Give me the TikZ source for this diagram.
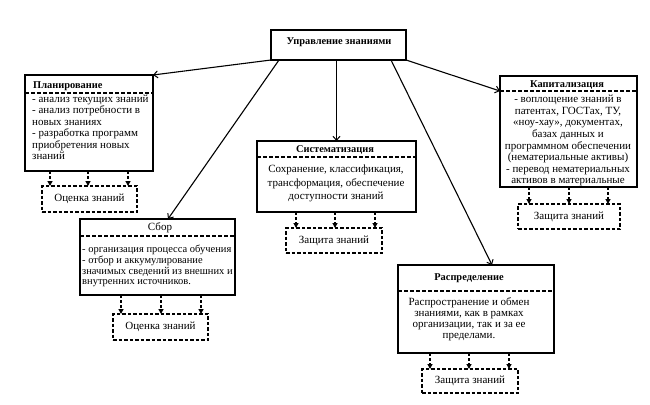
\documentclass[tikz,border=0pt]{standalone}
\usepackage{fontspec}
\setmainfont{Liberation Serif}
\usetikzlibrary{arrows.meta,calc}
\newcommand{\fsz}[1]{\fontsize{11}{#1}\selectfont}
\newcommand{\tsz}{\fontsize{10.4}{12}\selectfont\bfseries}
\begin{document}
\begin{tikzpicture}[x=1pt,y=-1pt,
  box/.style={draw,line width=1.6pt,inner sep=0pt,outer sep=0pt,anchor=north west},
  evalbox/.style={draw,line width=1.2pt,dash pattern=on 3.5pt off 2pt,inner sep=0pt,outer sep=0pt,anchor=north west,font=\fsz{12}},
  sep/.style={line width=1.2pt,dash pattern=on 4pt off 2pt},
  conn/.style={line width=1.1pt,-{Straight Barb[length=4pt,width=7pt,line width=1pt]}},
  darr/.style={line width=1.2pt,dash pattern=on 3pt off 2pt,-{Triangle[length=5pt,width=5pt]}},
  ttl/.style={inner sep=0pt,font=\tsz},
  body/.style={inner sep=0pt,align=center},
]
\useasboundingbox (0,0) rectangle (650,404);

% main box
\node[box,minimum width=135pt,minimum height=30pt] (top) at (271,30) {};
\node[ttl] (toptxt) at (339,42) {Управление знаниями};

% boxes
\node[box,minimum width=128pt,minimum height=96pt] (plan) at (25,75) {};
\node[box,minimum width=155pt,minimum height=76pt] (sbor) at (80,219) {};
\node[box,minimum width=159pt,minimum height=71pt] (sys) at (257,141) {};
\node[box,minimum width=156pt,minimum height=88pt] (distr) at (398,265) {};
\node[box,minimum width=137pt,minimum height=111pt] (cap) at (500,76) {};

% titles
\node[ttl,anchor=west] (plant) at (33,86) {Планирование};
\node[inner sep=0pt,font=\fsz{12}] (sbort) at (160,228) {Сбор};
\node[ttl] (syst) at (335,150) {Систематизация};
\node[ttl] (distrt) at (469,278) {Распределение};
\node[ttl] (capt) at (567,85) {Капитализация};

% separators
\coordinate (s1) at (0,93);
\coordinate (s2) at (0,236);
\coordinate (s3) at (0,157);
\coordinate (s4) at (0,291);
\coordinate (s5) at (0,91);
\draw[sep] (plan.west |- s1) -- (plan.east |- s1);
\draw[sep] (sbor.west |- s2) -- (sbor.east |- s2);
\draw[sep] (sys.west |- s3) -- (sys.east |- s3);
\draw[sep] (distr.west |- s4) -- (distr.east |- s4);
\draw[sep] (cap.west |- s5) -- (cap.east |- s5);

% bodies
\node[body,align=left,anchor=north west,font=\fsz{11.5}] (planb) at (32,94.5)
  {- анализ текущих знаний\\- анализ потребности в\\новых знаниях\\- разработка программ\\приобретения новых\\знаний};
\node[body,align=left,anchor=north west,font=\fontsize{10.5}{10.7}\selectfont] (sborb) at (82,245)
  {- организация процесса обучения\\- отбор и аккумулирование\\значимых сведений из внешних и\\внутренних источников.};
\node[body,anchor=north,font=\fsz{13.3}] (sysb) at (336,165)
  {Сохранение, классификация,\\трансформация, обеспечение\\доступности знаний};
\node[body,anchor=north,font=\fsz{11.1}] (distrb) at (469,297)
  {Распространение и обмен\\знаниями, как в рамках\\организации, так и за ее\\пределами.};
\node[body,anchor=north,font=\fsz{11.6}] (capb) at (568,95)
  {- воплощение знаний в\\патентах, ГОСТах, ТУ,\\«ноу-хау», документах,\\базах данных и\\программном обеспечении\\(нематериальные активы)\\- перевод нематериальных\\активов в материальные};

% evaluation / protection boxes
\node[evalbox,minimum width=95pt,minimum height=26pt] (e1) at (42,186) {Оценка знаний};
\node[evalbox,minimum width=95pt,minimum height=26pt] (e2) at (113,314) {Оценка знаний};
\node[evalbox,minimum width=96pt,minimum height=25pt] (p1) at (286,228) {Защита знаний};
\node[evalbox,minimum width=96pt,minimum height=24pt] (p2) at (422,369) {Защита знаний};
\node[evalbox,minimum width=102pt,minimum height=25pt] (p3) at (518,204) {Защита знаний};

% dashed arrows
\foreach \x in {50,88,128} {\coordinate (t) at (\x,0); \draw[darr] (plan.south -| t) -- (e1.north -| t);}
\foreach \x in {121,161,201} {\coordinate (t) at (\x,0); \draw[darr] (sbor.south -| t) -- (e2.north -| t);}
\foreach \x in {296,335,375} {\coordinate (t) at (\x,0); \draw[darr] (sys.south -| t) -- (p1.north -| t);}
\foreach \x in {430,469,509} {\coordinate (t) at (\x,0); \draw[darr] (distr.south -| t) -- (p2.north -| t);}
\foreach \x in {529,569,608} {\coordinate (t) at (\x,0); \draw[darr] (cap.south -| t) -- (p3.north -| t);}

% main connectors
\draw[conn] (top.south west) -- (plan.north east);
\draw[conn] ($(top.south west)+(8,0)$) -- ($(sbor.north west)+(88,0)$);
\draw[conn] (sys.north |- top.south) -- (sys.north);
\draw[conn] ($(top.south east)+(-15,0)$) -- ($(distr.north west)+(94,0)$);
\draw[conn] (top.south east) -- (cap.west |- s5);
\end{tikzpicture}
\end{document}
